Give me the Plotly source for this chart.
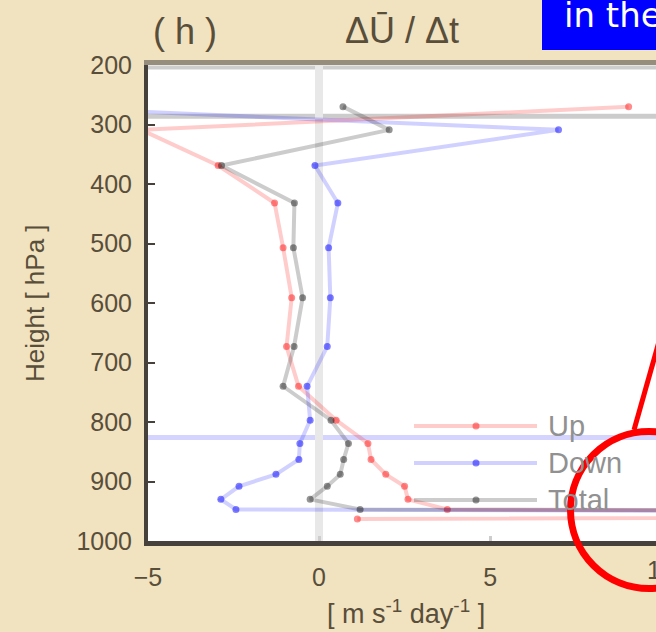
import plotly.graph_objects as go

# ---- data: pressure levels (hPa) and momentum tendencies (m s-1 day-1) ----
levels = [270, 309, 369, 432, 507, 591, 673, 740, 797, 836, 863, 888, 908, 930, 947, 955, 963]
up = [9.05, -5.2, -2.95, -1.3, -1.05, -0.8, -0.95, -0.6, 0.5, 1.43, 1.52, 1.95, 2.5, 2.6, 3.75, 45.0, 1.12]
down = [-8.7, 7.0, -0.12, 0.55, 0.28, 0.33, 0.24, -0.35, -0.26, -0.56, -0.59, -1.26, -2.34, -2.87, -2.43, 40.0, 35.0]
total = [0.7, 2.05, -2.85, -0.72, -0.75, -0.48, -0.73, -1.05, 0.35, 0.86, 0.72, 0.62, 0.24, -0.26, 1.2, 85.0, 36.2]

series_names = ["Up", "Down", "Total"]
series_values = [up, down, total]

# horizontal reference levels (hPa)
ref_levels = [286, 826]

y_ticks = [200, 300, 400, 500, 600, 700, 800, 900, 1000]
x_ticks = [-5, 0, 5, 10]

# ---- styling ----
W, H = 656, 632
L, T, B = 148, 65, 541          # plot box in pixels (right edge = page edge)
x_range = [-5, 9.85]
y_range = [1000, 200]

line_cols = ["rgba(255,0,0,0.2)", "rgba(0,0,255,0.18)", "rgba(0,0,0,0.2)"]
mark_cols = ["rgba(255,0,0,0.45)", "rgba(0,0,255,0.5)", "rgba(0,0,0,0.42)"]
ref_cols = ["rgba(0,0,0,0.2)", "rgba(0,0,255,0.17)"]

FONT = "Liberation Sans, Arial, sans-serif"
TXT = "rgb(88,78,58)"
BG = "rgb(241,226,192)"
FRAME = "rgb(70,65,58)"


def px(x):
    return (x - L) / (W - L)


def py(y):
    return (B - y) / (B - T)


fig = go.Figure()

for name, vals, lc, mc in zip(series_names, series_values, line_cols, mark_cols):
    fig.add_trace(go.Scatter(
        x=vals, y=levels, name=name, mode="lines+markers",
        line=dict(color=lc, width=4),
        marker=dict(color=mc, size=7, symbol="circle", line=dict(width=0)),
        showlegend=False,
    ))

shapes = []
# reference levels across the panel
for lev, col in zip(ref_levels, ref_cols):
    shapes.append(dict(type="line", xref="paper", yref="y", x0=0, x1=1.02,
                       y0=lev, y1=lev, line=dict(color=col, width=5), layer="below"))

# top edge of the frame
shapes.append(dict(type="line", xref="paper", yref="paper", x0=px(144), x1=1.02,
                   y0=py(62.5), y1=py(62.5), line=dict(color="rgb(150,141,125)", width=5)))
shapes.append(dict(type="line", xref="paper", yref="paper", x0=0, x1=1.02,
                   y0=py(67.5), y1=py(67.5), line=dict(color="rgb(205,205,205)", width=4),
                   layer="below"))

# hand-drawn legend
annotations = []
for i, (name, lc, mc) in enumerate(zip(series_names, line_cols, mark_cols)):
    yy = 426 + 37 * i
    shapes.append(dict(type="line", xref="paper", yref="paper", x0=px(414), x1=px(537),
                       y0=py(yy), y1=py(yy), line=dict(color=lc, width=4)))
    shapes.append(dict(type="circle", xref="paper", yref="paper",
                       x0=px(476 - 3.5), x1=px(476 + 3.5), y0=py(yy + 3.5), y1=py(yy - 3.5),
                       fillcolor=mc, line=dict(width=0)))
    annotations.append(dict(text=name, xref="paper", yref="paper", x=px(546), y=py(yy),
                            xanchor="left", yanchor="middle", showarrow=False,
                            font=dict(family=FONT, size=29, color="rgb(145,145,145)")))

# callout: blue caption box, red ring and pointer
shapes.append(dict(type="rect", xref="paper", yref="paper", x0=px(542), x1=px(700),
                   y0=py(50), y1=py(-10), fillcolor="rgb(0,0,255)", line=dict(width=0)))
shapes.append(dict(type="circle", xref="paper", yref="paper", x0=px(570.5), x1=px(727.5),
                   y0=py(588.5), y1=py(431.5), line=dict(color="rgb(255,0,0)", width=7)))
shapes.append(dict(type="line", xref="paper", yref="paper", x0=px(634), y0=py(430),
                   x1=px(690), y1=py(232), line=dict(color="rgb(255,0,0)", width=5)))

annotations.append(dict(text="in the", xref="paper", yref="paper", x=px(562), y=py(15),
                        xanchor="left", yanchor="middle", showarrow=False,
                        font=dict(family="DejaVu Sans, sans-serif", size=34, color="white")))

# panel label and title
annotations.append(dict(text="( h )", xref="paper", yref="paper", x=px(185), y=py(31),
                        xanchor="center", yanchor="middle", showarrow=False,
                        font=dict(family=FONT, size=36, color=TXT)))
annotations.append(dict(text="ΔŪ / Δt", xref="paper", yref="paper", x=px(402), y=py(30),
                        xanchor="center", yanchor="middle", showarrow=False,
                        font=dict(family=FONT, size=36, color=TXT)))

# axis titles
annotations.append(dict(text="Height [ hPa ]", xref="paper", yref="paper", x=px(35), y=0.5,
                        textangle=-90, xanchor="center", yanchor="middle", showarrow=False,
                        font=dict(family=FONT, size=26, color=TXT)))
annotations.append(dict(text="[ m s<sup>-1</sup> day<sup>-1</sup> ]", xref="paper", yref="paper",
                        x=px(406), y=py(612), xanchor="center", yanchor="middle",
                        showarrow=False, font=dict(family=FONT, size=27, color=TXT)))

# tick label for the last x tick, which sits at the page edge
last_tick = x_ticks[-1]
annotations.append(dict(text=str(last_tick), xref="paper", yref="paper",
                        x=(last_tick - x_range[0]) / (x_range[1] - x_range[0]), y=py(570),
                        xanchor="center", yanchor="middle", showarrow=False,
                        font=dict(family=FONT, size=25, color=TXT)))

fig.update_layout(
    width=W, height=H,
    margin=dict(l=L, r=0, t=T, b=H - B),
    paper_bgcolor=BG, plot_bgcolor="white",
    shapes=shapes, annotations=annotations,
    font=dict(family=FONT, color=TXT),
)
fig.update_xaxes(
    range=x_range, tickvals=[v for v in x_ticks if v <= x_range[1]],
    showline=True, linecolor=FRAME, linewidth=5, mirror=False,
    ticks="inside", ticklen=5, tickwidth=3, tickcolor="rgb(205,205,205)",
    showgrid=False, zeroline=True, zerolinecolor="rgb(232,232,232)", zerolinewidth=8,
    tickfont=dict(family=FONT, size=25, color=TXT), ticklabelstandoff=10,
)
fig.update_yaxes(
    range=y_range, tickvals=y_ticks,
    showline=True, linecolor=FRAME, linewidth=4, mirror=False,
    ticks="inside", ticklen=7, tickwidth=2, tickcolor=FRAME,
    showgrid=False, zeroline=False,
    tickfont=dict(family=FONT, size=25, color=TXT), ticklabelstandoff=7,
)

fig.write_html("out.html")
